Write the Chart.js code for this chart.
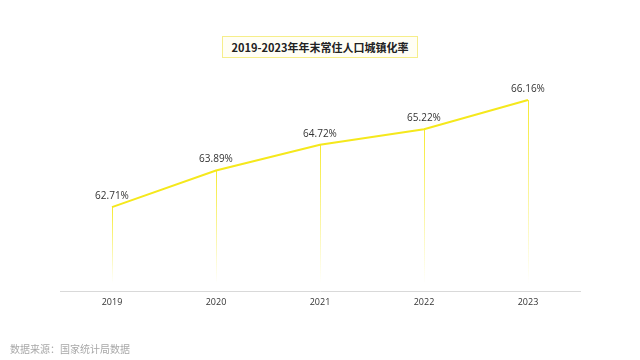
<!DOCTYPE html>
<html><head><meta charset="utf-8">
<script src="https://cdn.jsdelivr.net/npm/chart.js@4/dist/chart.umd.min.js"></script>
<style>
html,body{margin:0;padding:0;background:#fff;}
#wrap{position:absolute;left:0;top:0;width:640px;height:360px;}
#title{position:absolute;left:222px;top:36px;width:194px;height:20px;border:1px solid #f6ee8a;background:#fffef5;white-space:nowrap;
font-family:"Noto Sans CJK SC","Noto Sans",sans-serif;font-weight:bold;font-size:11px;line-height:20px;text-align:center;color:#222;}
#src{position:absolute;left:10px;top:341px;font-family:"Noto Sans CJK SC",sans-serif;font-size:10px;color:#a8a8a8;white-space:nowrap;}
#c{position:absolute;left:0;top:0;}
</style></head>
<body><div id="wrap">
<canvas id="c" width="640" height="360"></canvas>
<div id="title">2019-2023年年末常住人口城镇化率</div>
<div id="src">数据来源：国家统计局数据</div>
</div>
<script>
const categories = ["2019","2020","2021","2022","2023"];
const rates = [62.71, 63.89, 64.72, 65.22, 66.16];
const valueLabels = ["62.71%","63.89%","64.72%","65.22%","66.16%"];
const LINE = '#f5e81c';

const dropLines = {
  id:'dropLines',
  beforeDatasetsDraw(chart){
    const {ctx, chartArea} = chart;
    const meta = chart.getDatasetMeta(0);
    ctx.save();
    meta.data.forEach(p=>{
      const g = ctx.createLinearGradient(0,p.y,0,chartArea.bottom-8);
      g.addColorStop(0,'rgba(245,232,28,0.9)');
      g.addColorStop(1,'rgba(245,232,28,0)');
      ctx.strokeStyle = g; ctx.lineWidth = 1;
      ctx.beginPath(); ctx.moveTo(Math.round(p.x)+0.5,p.y); ctx.lineTo(Math.round(p.x)+0.5,chartArea.bottom-8); ctx.stroke();
    });
    ctx.restore();
  },
  afterDatasetsDraw(chart){
    const {ctx} = chart;
    const meta = chart.getDatasetMeta(0);
    ctx.save();
    ctx.font = '10px "Open Sans","Noto Sans",sans-serif';
    ctx.fillStyle = '#333';
    ctx.textAlign='center'; ctx.textBaseline='bottom';
    meta.data.forEach((p,i)=>{ ctx.fillText(valueLabels[i], p.x, p.y-6); });
    ctx.restore();
  }
};

new Chart(document.getElementById('c'),{
  type:'line',
  data:{labels:categories,datasets:[{data:rates,borderColor:LINE,borderWidth:2,pointRadius:0,tension:0,fill:false}]},
  options:{
    responsive:false,animation:false,
    layout:{padding:{left:60,right:60,top:74,bottom:46}},
    plugins:{legend:{display:false},tooltip:{enabled:false}},
    scales:{
      x:{offset:true,grid:{display:false,drawTicks:false},border:{display:true,color:'#d9d9d9',width:1},
         ticks:{padding:6,color:'#333',font:{family:'"Open Sans","Noto Sans",sans-serif',size:9}}},
      y:{min:60,max:67,display:false}
    }
  },
  plugins:[dropLines]
});
</script>
</body></html>
